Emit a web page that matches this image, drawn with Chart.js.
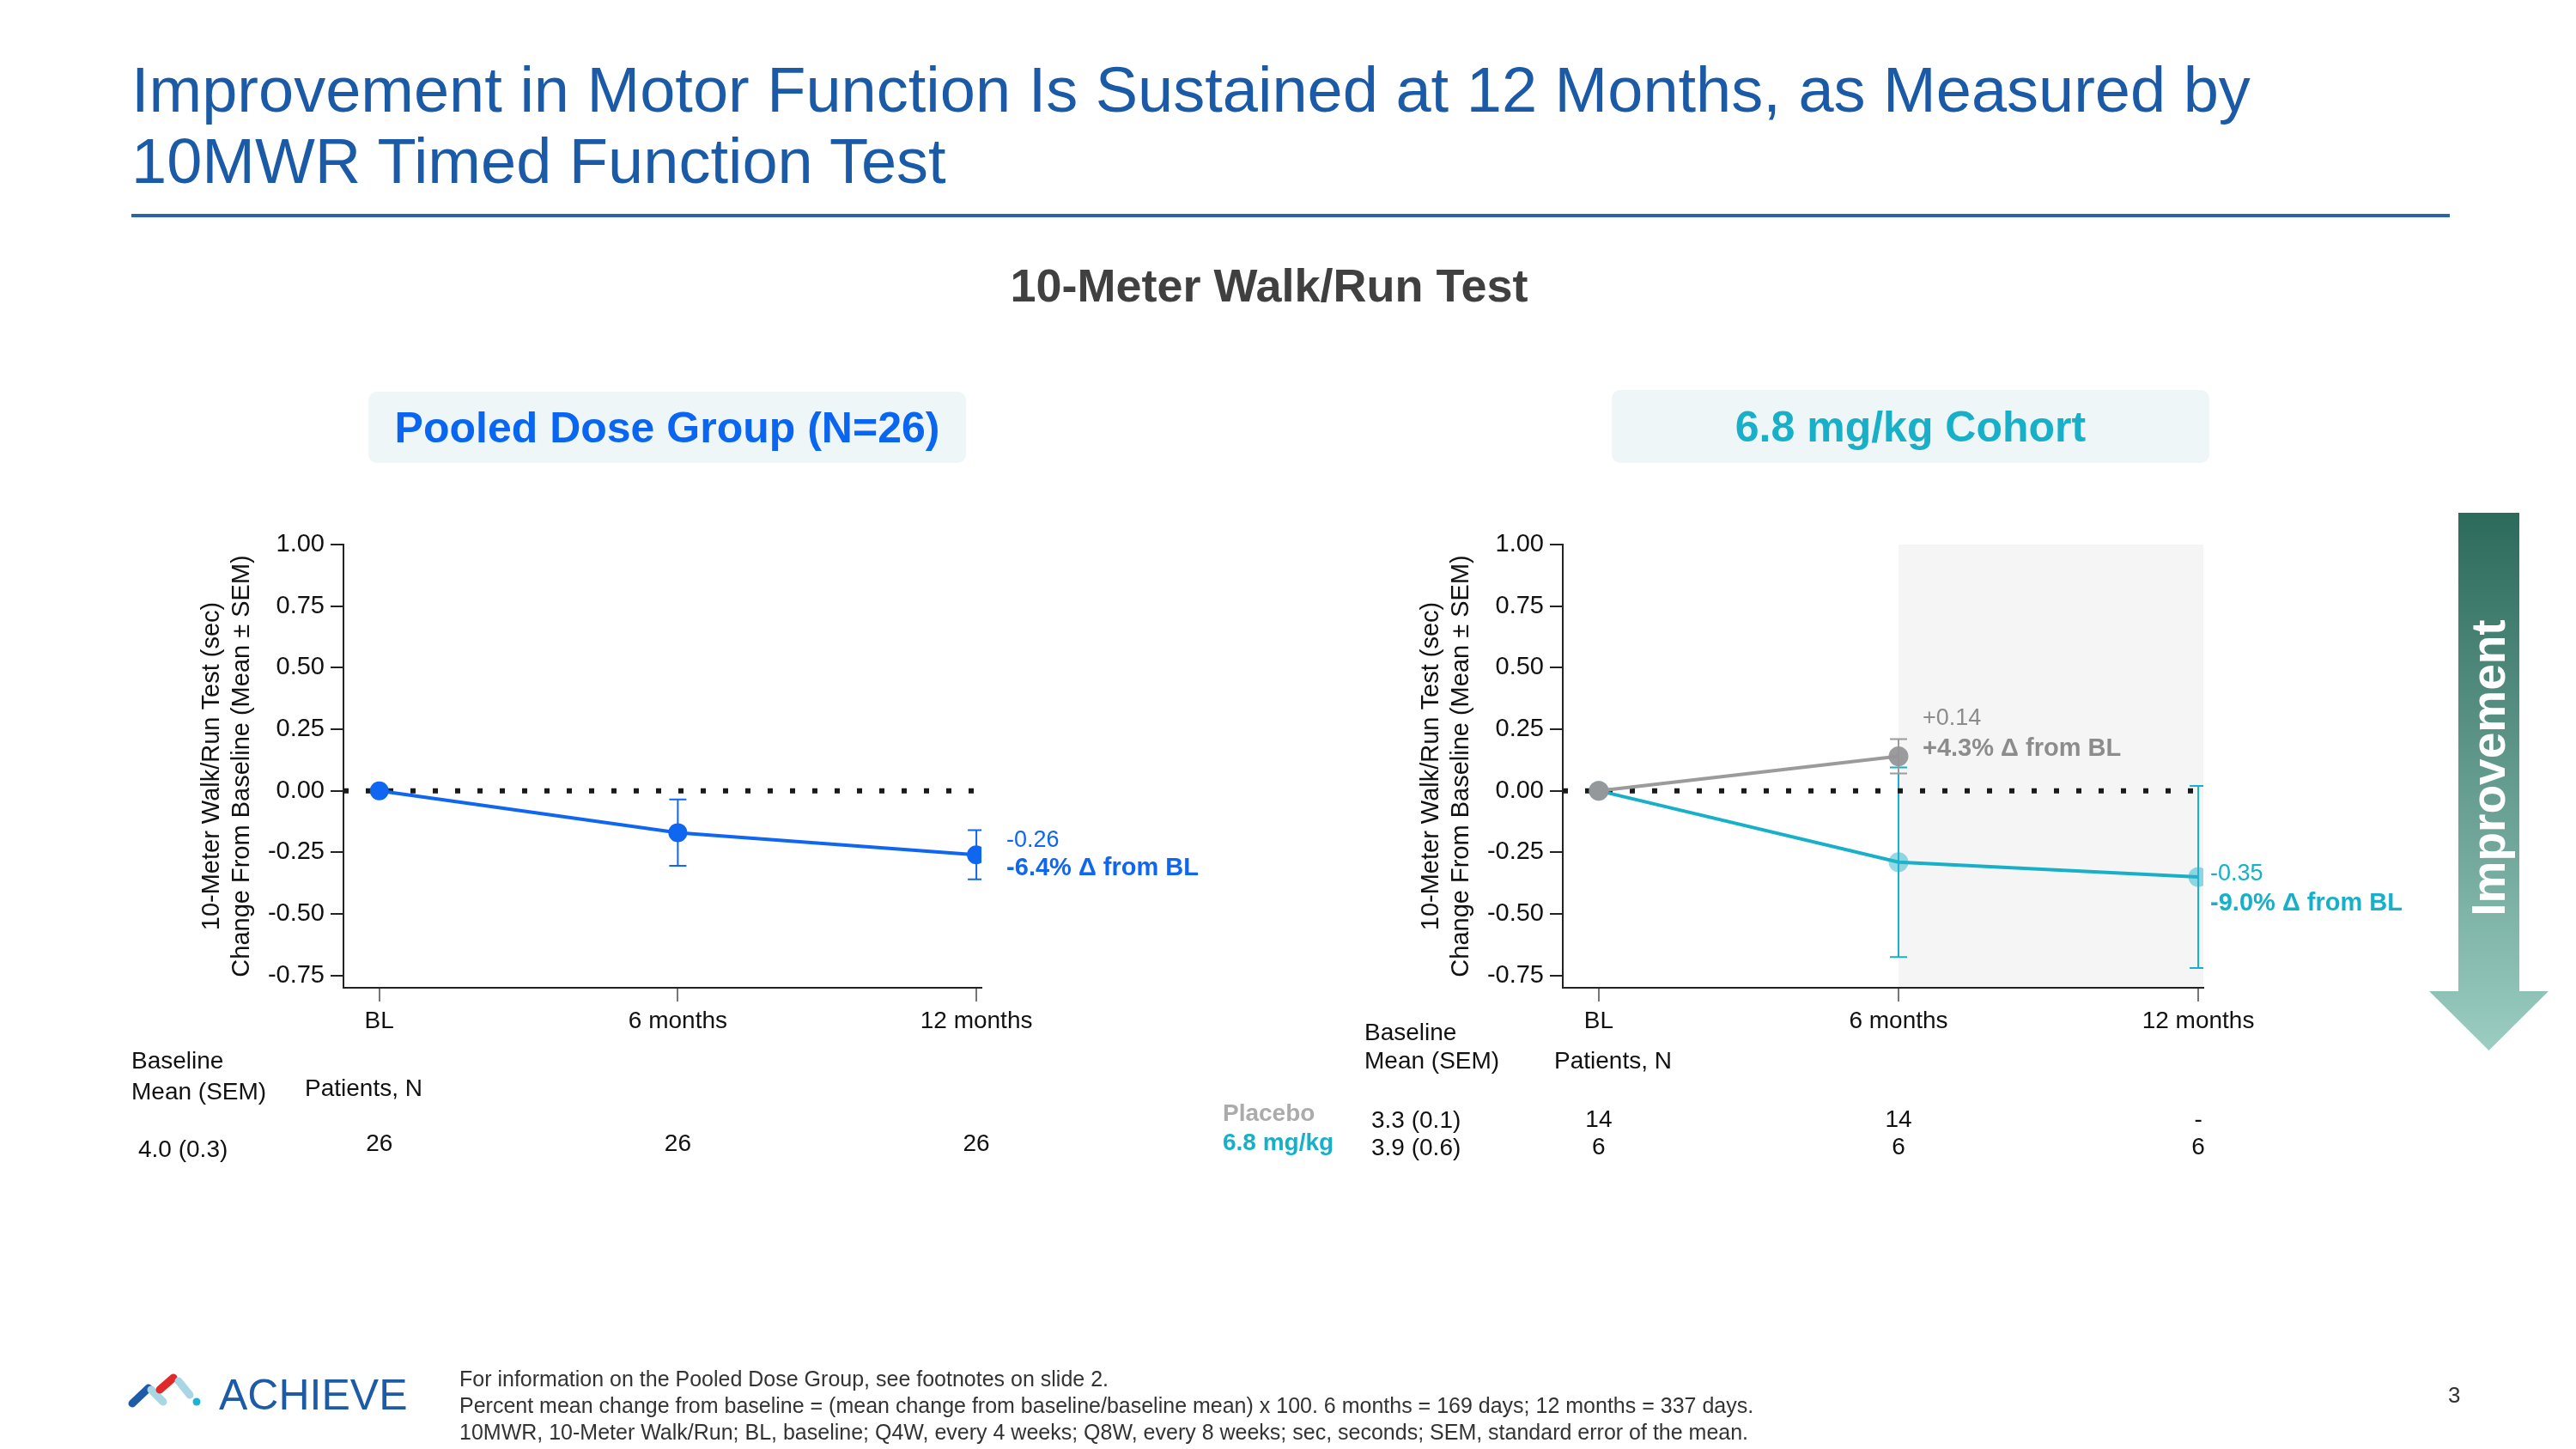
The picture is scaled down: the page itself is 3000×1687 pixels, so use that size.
<!DOCTYPE html>
<html>
<head>
<meta charset="utf-8">
<script src="https://cdn.jsdelivr.net/npm/chart.js@4.4.1/dist/chart.umd.min.js"></script>
<style>
html, body { margin:0; padding:0; background:#fff; }
#page { position:relative; width:3000px; height:1687px; overflow:hidden; font-family:"Liberation Sans", Arial, Helvetica, sans-serif; color:#111; }
.t { position:absolute; white-space:nowrap; line-height:1; }
canvas { position:absolute; }
.box { position:absolute; background:#eef6f7; border-radius:10px; display:flex; align-items:center; justify-content:center; font-weight:bold; font-size:50px; }
</style>
</head>
<body>
<div id="page">
  <div class="t" style="left:153px;top:63px;font-size:74px;line-height:83px;color:#1a5aa6;">Improvement in Motor Function Is Sustained at 12 Months, as Measured by<br>10MWR Timed Function Test</div>
  <div style="position:absolute;left:153px;top:249px;width:2700px;height:4px;background:#2a64a8;"></div>
  <div class="t" style="left:1478px;top:305px;font-size:54px;font-weight:bold;color:#404040;transform:translateX(-50%);">10-Meter Walk/Run Test</div>

  <div class="box" style="left:429px;top:456px;width:696px;height:83px;color:#0a66f0;">Pooled Dose Group (N=26)</div>
  <div class="box" style="left:1877px;top:454px;width:696px;height:85px;color:#17b0c8;">6.8 mg/kg Cohort</div>

  <canvas id="pooled" width="1300" height="820" style="left:100px;top:560px;"></canvas>
  <canvas id="cohort" width="1500" height="820" style="left:1380px;top:560px;"></canvas>

  <!-- table headings, pooled -->
  <div class="t" style="left:153px;top:1221px;font-size:28px;">Baseline</div>
  <div class="t" style="left:153px;top:1257px;font-size:28px;">Mean (SEM)</div>
  <div class="t" style="left:355px;top:1253px;font-size:28px;">Patients, N</div>
  <div class="t" style="left:161px;top:1324px;font-size:28px;">4.0 (0.3)</div>

  <!-- table headings, cohort -->
  <div class="t" style="left:1589px;top:1188px;font-size:28px;">Baseline</div>
  <div class="t" style="left:1589px;top:1221px;font-size:28px;">Mean (SEM)</div>
  <div class="t" style="left:1810px;top:1221px;font-size:28px;">Patients, N</div>
  <div class="t" style="left:1424px;top:1282px;font-size:28px;font-weight:bold;color:#ababab;">Placebo</div>
  <div class="t" style="left:1424px;top:1316px;font-size:28px;font-weight:bold;color:#17b0c8;">6.8 mg/kg</div>
  <div class="t" style="left:1597px;top:1290px;font-size:28px;">3.3 (0.1)</div>
  <div class="t" style="left:1597px;top:1322px;font-size:28px;">3.9 (0.6)</div>

  <!-- improvement arrow -->
  <svg style="position:absolute;left:0;top:0;" width="3000" height="1687">
    <defs>
      <linearGradient id="arrowGrad" x1="0" y1="597" x2="0" y2="1223" gradientUnits="userSpaceOnUse">
        <stop offset="0" stop-color="#2c6a5c"/>
        <stop offset="1" stop-color="#9bcdc1"/>
      </linearGradient>
    </defs>
    <polygon points="2863,597 2934,597 2934,1154 2968,1154 2898.5,1223 2829,1154 2863,1154" fill="url(#arrowGrad)"/>
    <text x="0" y="0" transform="translate(2898,894) rotate(-90)" text-anchor="middle" dominant-baseline="central" font-family="Liberation Sans, Arial, sans-serif" font-weight="bold" font-size="55" fill="#fff">Improvement</text>
    <!-- logo mark -->
    <g stroke-linecap="round" stroke-width="9" fill="none">
      <line x1="154" y1="1634" x2="173" y2="1616" stroke="#1d5ba6"/>
      <line x1="176" y1="1618" x2="190" y2="1632" stroke="#a9d6e5"/>
      <line x1="186" y1="1618" x2="202" y2="1604" stroke="#e02a2a"/>
      <line x1="208" y1="1608" x2="221" y2="1624" stroke="#a9d6e5"/>
    </g>
    <circle cx="229" cy="1632" r="4.5" fill="#1ab3d6"/>
  </svg>

  <div class="t" style="left:255px;top:1599px;font-size:50px;color:#1d5ba6;">ACHIEVE</div>
  <div class="t" style="left:535px;top:1590px;font-size:25px;line-height:31px;color:#333;">For information on the Pooled Dose Group, see footnotes on slide 2.<br>Percent mean change from baseline = (mean change from baseline/baseline mean) x 100. 6 months = 169 days; 12 months = 337 days.<br>10MWR, 10-Meter Walk/Run; BL, baseline; Q4W, every 4 weeks; Q8W, every 8 weeks; sec, seconds; SEM, standard error of the mean.</div>
  <div class="t" style="left:2851px;top:1611px;font-size:26px;color:#333;">3</div>
</div>

<script>
// categories and ticks
const timepoints = ['BL', '6 months', '12 months'];
const yTicks = [1.00, 0.75, 0.50, 0.25, 0.00, -0.25, -0.50, -0.75];
const yTitle = ['10-Meter Walk/Run Test (sec)', 'Change From Baseline (Mean \u00b1 SEM)'];

// pooled dose group: mean change and SEM
const pooledMean = [0, -0.17, -0.26];
const pooledSem = [0, 0.135, 0.10];
const pooledN = ['26', '26', '26'];
const pooledNotes = ['-0.26', '-6.4% \u0394 from BL'];

// 6.8 mg/kg cohort vs placebo
const placeboMean = [0, 0.14, null];
const placeboSem = [0, 0.07, null];
const placeboN = ['14', '14', '-'];
const placeboNotes = ['+0.14', '+4.3% \u0394 from BL'];

const cohortMean = [0, -0.29, -0.35];
const cohortSem = [0, 0.385, 0.37];
const cohortN = ['6', '6', '6'];
const cohortNotes = ['-0.35', '-9.0% \u0394 from BL'];

const BLUE = '#0f66f0', TEAL = '#17b0c8', GREY = '#9b9b9b';
const FONT = '"Liberation Sans", Arial, Helvetica, sans-serif';
Chart.defaults.font.family = FONT;

const toPoints = arr => arr.map((y, i) => ({ x: i, y })).filter(p => p.y !== null);

function scalesConfig() {
  return {
    x: {
      type: 'linear', min: -0.12, max: 2.017, bounds: 'data',
      afterBuildTicks: s => { s.ticks = timepoints.map((_, i) => ({ value: i })); },
      afterFit: s => { s.height = 60; },
      ticks: { callback: v => timepoints[v], color: '#111', font: { size: 28 }, padding: 6, maxRotation: 0, autoSkip: false },
      grid: { drawOnChartArea: false, tickLength: 16, color: '#777', lineWidth: 2 },
      border: { display: true, color: '#222', width: 2 }
    },
    y: {
      min: -0.8, max: 1.0, bounds: 'data',
      afterBuildTicks: s => { s.ticks = yTicks.map(v => ({ value: v })); },
      afterFit: s => { s.width = 170; },
      ticks: { callback: v => v.toFixed(2), color: '#111', font: { size: 29 }, padding: 7 },
      grid: { drawOnChartArea: false, tickLength: 15, color: '#222', lineWidth: 2 },
      border: { display: true, color: '#222', width: 2 },
      title: { display: true, text: yTitle, color: '#111', font: { size: 29 }, padding: 0 }
    }
  };
}

// error bars, shading, zero line, labels and N row
function overlay(spec) {
  return {
    id: 'overlay',
    beforeDraw(chart) {
      if (spec.shadeFrom == null) return;
      const { ctx, chartArea: a, scales: { x } } = chart;
      const x0 = x.getPixelForValue(spec.shadeFrom);
      ctx.save();
      ctx.fillStyle = '#f5f5f5';
      ctx.fillRect(x0, a.top, a.right - x0, a.bottom - a.top);
      ctx.restore();
    },
    beforeDatasetsDraw(chart) {
      const { ctx, chartArea: a, scales: { x, y } } = chart;
      ctx.save();
      ctx.beginPath();
      ctx.rect(a.left - 50, a.top - 50, a.right - a.left + 50, a.bottom - a.top + 100);
      ctx.clip();
      spec.errors.forEach(e => {
        ctx.strokeStyle = e.color;
        ctx.lineWidth = 2;
        e.mean.forEach((m, i) => {
          if (m === null || !e.sem[i]) return;
          const px = x.getPixelForValue(i);
          const hi = y.getPixelForValue(m + e.sem[i]);
          const lo = y.getPixelForValue(m - e.sem[i]);
          ctx.beginPath();
          ctx.moveTo(px, hi); ctx.lineTo(px, lo);
          ctx.moveTo(px - 10, hi); ctx.lineTo(px + 10, hi);
          ctx.moveTo(px - 10, lo); ctx.lineTo(px + 10, lo);
          ctx.stroke();
        });
      });
      ctx.restore();

      const y0 = y.getPixelForValue(0);
      ctx.save();
      ctx.strokeStyle = '#1a1a1a';
      ctx.lineWidth = 6;
      ctx.setLineDash([6, 20]);
      ctx.beginPath();
      ctx.moveTo(a.left, y0);
      ctx.lineTo(x.getPixelForValue(timepoints.length - 1), y0);
      ctx.stroke();
      ctx.restore();
    },
    afterDatasetsDraw(chart) {
      const { ctx, scales: { x } } = chart;
      ctx.save();
      ctx.textBaseline = 'middle';
      spec.notes.forEach(n => {
        const pt = chart.getDatasetMeta(n.ds).data[n.idx];
        ctx.fillStyle = n.color;
        ctx.textAlign = 'left';
        n.lines.forEach((text, k) => {
          ctx.font = k === 1 ? 'bold 29px ' + FONT : '27px ' + FONT;
          ctx.fillText(text, pt.x + n.dx, pt.y + n.dy[k]);
        });
      });
      ctx.textAlign = 'center';
      ctx.font = '28px ' + FONT;
      spec.rows.forEach(r => {
        ctx.fillStyle = '#111';
        r.values.forEach((v, i) => ctx.fillText(v, x.getPixelForValue(i), r.y));
      });
      ctx.restore();
    }
  };
}

function lineSet(label, mean, color, fill, radius) {
  return {
    label, data: toPoints(mean),
    borderColor: color, borderWidth: 4,
    pointRadius: radius, pointHoverRadius: radius,
    pointBackgroundColor: fill, pointBorderWidth: 0,
    tension: 0, clip: { left: 40, top: 40, right: 0, bottom: 40 }
  };
}

function baseOptions(pad) {
  return {
    responsive: false, animation: false,
    layout: { padding: pad },
    plugins: { legend: { display: false }, tooltip: { enabled: false } },
    scales: scalesConfig()
  };
}

new Chart(document.getElementById('pooled'), {
  type: 'line',
  data: { datasets: [lineSet('Pooled', pooledMean, BLUE, BLUE, 11)] },
  options: baseOptions({ left: 130, right: 257, top: 74, bottom: 170 }),
  plugins: [overlay({
    shadeFrom: null,
    errors: [{ mean: pooledMean, sem: pooledSem, color: BLUE }],
    notes: [{ ds: 0, idx: 2, dx: 35, dy: [-17, 16], color: BLUE, lines: pooledNotes }],
    rows: [{ values: pooledN, y: 772 }]
  })]
});

new Chart(document.getElementById('cohort'), {
  type: 'line',
  data: {
    datasets: [
      lineSet('Placebo', placeboMean, GREY, 'rgba(150,150,152,0.95)', 11.5),
      lineSet('6.8 mg/kg', cohortMean, TEAL, 'rgba(40,180,205,0.5)', 11.5)
    ]
  },
  options: baseOptions({ left: 270, right: 314, top: 74, bottom: 170 }),
  plugins: [overlay({
    shadeFrom: 1,
    errors: [
      { mean: cohortMean, sem: cohortSem, color: TEAL },
      { mean: placeboMean, sem: placeboSem, color: GREY }
    ],
    notes: [
      { ds: 0, idx: 1, dx: 28, dy: [-44, -9], color: '#8c8c8c', lines: placeboNotes },
      { ds: 1, idx: 2, dx: 14, dy: [-3, 31], color: TEAL, lines: cohortNotes }
    ],
    rows: [{ values: placeboN, y: 744 }, { values: cohortN, y: 776 }]
  })]
});
</script>
</body>
</html>
